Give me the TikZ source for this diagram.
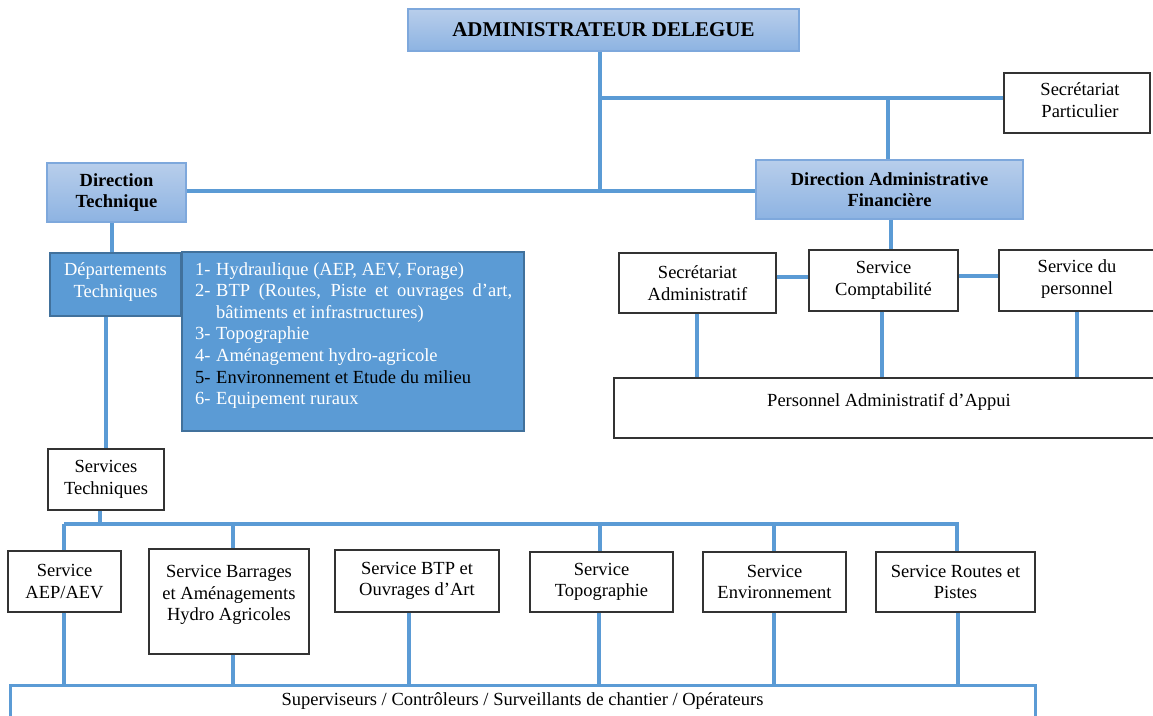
\documentclass[tikz,border=0pt]{standalone}
\usepackage{fontspec}
\setmainfont{Liberation Serif}
\definecolor{conn}{HTML}{5B9BD5}
\definecolor{darkb}{HTML}{41719C}
\definecolor{gtop}{HTML}{B8CEEB}
\definecolor{gbot}{HTML}{8DB3E2}
\definecolor{gbord}{HTML}{7EA8DC}
\newcommand\fs{\fontsize{18.5}{21.6}\selectfont}
\newcommand\fsb{\fontsize{18.5}{21.6}\selectfont\bfseries}
\tikzset{
  conline/.style={draw=conn, line width=3.6pt},
  wbox/.style={draw=black!80, line width=1.2pt, fill=white, inner sep=0pt, align=center, font=\fs},
  gbox/.style={draw=gbord, line width=1.5pt, top color=gtop, bottom color=gbot, inner sep=0pt, align=center, font=\fsb},
  bbox/.style={draw=darkb, line width=1.3pt, fill=conn, inner sep=0pt, align=center, text=white, font=\fs},
  lbl/.style={inner sep=0pt, align=center, font=\fs},
}
\begin{document}
\begin{tikzpicture}[x=1pt,y=-1pt]
\useasboundingbox (0,0) rectangle (1153,715);
\clip (0,0) rectangle (1153,715);
\fill[white] (0,0) rectangle (1153,715);

% top level
\node[gbox, minimum width=391pt, minimum height=42pt, font=\fontsize{21}{24}\selectfont\bfseries] (AD) at (603.5,30) {ADMINISTRATEUR DELEGUE};
\node[wbox, minimum width=146pt, minimum height=60pt] (SP) at (1077,103) {};
\node[lbl] (SPt) at (1080,100) {Secrétariat\\Particulier};
\node[gbox, minimum width=139pt, minimum height=59pt] (DT) at (116.5,192.5) {Direction\\Technique};
\node[gbox, minimum width=267pt, minimum height=59pt] (DAF) at (889.5,189.5) {Direction Administrative\\Financière};

\coordinate (j1) at (600,98);
\coordinate (j2) at (600,191);
\draw[conline] (AD.south -| j1) -- (j2);
\draw[conline] (j1) -- (SP.west |- j1);
\draw[conline] (j1 -| 888,0) -- (888,0 |- DAF.north);
\draw[conline] (DT.east |- j2) -- (DAF.west |- j2);

% left branch
\node[bbox, minimum width=131pt, minimum height=63pt] (Dep) at (115.5,284.5) {};
\node[lbl, text=white] (Dept) at (115.5,282) {Départements\\Techniques};
\node[bbox, minimum width=342pt, minimum height=179pt] (List) at (353,341.5) {};
\node[anchor=north west, inner sep=0pt, align=left, text=white, font=\fs] (Listt) at (195,262) {%
\makebox[21pt][l]{1-}Hydraulique (AEP, AEV, Forage)\\
\makebox[21pt][l]{2-}\makebox[296pt][s]{BTP (Routes, Piste et ouvrages d’art,}\\
\makebox[21pt][l]{}bâtiments et infrastructures)\\
\makebox[21pt][l]{3-}Topographie\\
\makebox[21pt][l]{4-}Aménagement hydro-agricole\\
{\color{black}\makebox[21pt][l]{5-}Environnement et Etude du milieu}\\
\makebox[21pt][l]{6-}Equipement ruraux};
\draw[conline] ([xshift=-4.5pt]DT.south) -- ([xshift=-4.5pt]DT.south |- Dep.north);

\node[wbox, minimum width=116pt, minimum height=61pt] (ST) at (106,479.5) {Services\\Techniques};
\draw[conline] (Dep.south -| ST.north) -- (ST.north);

\coordinate (bus) at (64,524);
\coordinate (busR) at (957,524);
\draw[conline] ([xshift=-6pt]ST.south) -- ([xshift=-6pt]ST.south |- bus);
\draw[conline] (bus) -- (busR);

% service row
\node[wbox, minimum width=113pt, minimum height=61pt] (AEP) at (64.5,581.5) {Service\\AEP/AEV};
\node[wbox, minimum width=160pt, minimum height=105pt] (BAR) at (229,601.5) {};
\node[lbl] (BARt) at (229,595) {Service Barrages\\et Aménagements\\Hydro Agricoles};
\node[wbox, minimum width=164pt, minimum height=62pt] (BTP) at (417,581) {Service BTP et\\Ouvrages d’Art};
\node[wbox, minimum width=143pt, minimum height=60pt] (TOP) at (601.5,582) {Service\\Topographie};
\node[wbox, minimum width=143pt, minimum height=60pt] (ENV) at (774.5,582) {Service\\Environnement};
\node[wbox, minimum width=159pt, minimum height=60pt] (RP) at (955.5,582) {Service Routes et\\Pistes};

\draw[conline] (bus) -- (bus |- AEP.north);
\draw[conline] (233,524) -- (233,0 |- BAR.north);
\draw[conline] (600,524) -- (600,0 |- TOP.north);
\draw[conline] (774,524) -- (774,0 |- ENV.north);
\draw[conline] ([yshift=2pt]busR) -- (busR |- RP.north);

% bottom box
\node[draw=conn, line width=3pt, minimum width=1025pt, minimum height=60pt, inner sep=0pt] (SUP) at (522.5,715) {};
\node[lbl] (SUPt) at (522.5,701) {Superviseurs / Contrôleurs / Surveillants de chantier / Opérateurs};
\draw[conline] (64,0 |- AEP.south) -- (64,0 |- SUP.north);
\draw[conline] (233,0 |- BAR.south) -- (233,0 |- SUP.north);
\draw[conline] (409,0 |- BTP.south) -- (409,0 |- SUP.north);
\draw[conline] (599,0 |- TOP.south) -- (599,0 |- SUP.north);
\draw[conline] (774,0 |- ENV.south) -- (774,0 |- SUP.north);
\draw[conline] (958,0 |- RP.south) -- (958,0 |- SUP.north);

% right branch
\node[wbox, minimum width=157pt, minimum height=60pt] (SA) at (697.5,283) {Secrétariat\\Administratif};
\node[wbox, minimum width=149pt, minimum height=61pt] (SC) at (883.5,280.5) {Service\\Comptabilité};
\node[wbox, minimum width=160pt, minimum height=61pt] (SDP) at (1079,280.5) {};
\node[lbl] (SDPt) at (1077,279) {Service du\\personnel};
\node[wbox, minimum width=550pt, minimum height=60pt] (PAA) at (889,408) {};
\node[lbl] (PAAt) at (889,402) {Personnel Administratif d’Appui};

\draw[conline] (891,0 |- DAF.south) -- (891,0 |- SC.north);
\draw[conline] (SA.east |- 0,277) -- (SC.west |- 0,277);
\draw[conline] (SC.east |- 0,276) -- (SDP.west |- 0,276);
\draw[conline] (697,0 |- SA.south) -- (697,0 |- PAA.north);
\draw[conline] (882,0 |- SC.south) -- (882,0 |- PAA.north);
\draw[conline] (1077,0 |- SDP.south) -- (1077,0 |- PAA.north);
\end{tikzpicture}
\end{document}
